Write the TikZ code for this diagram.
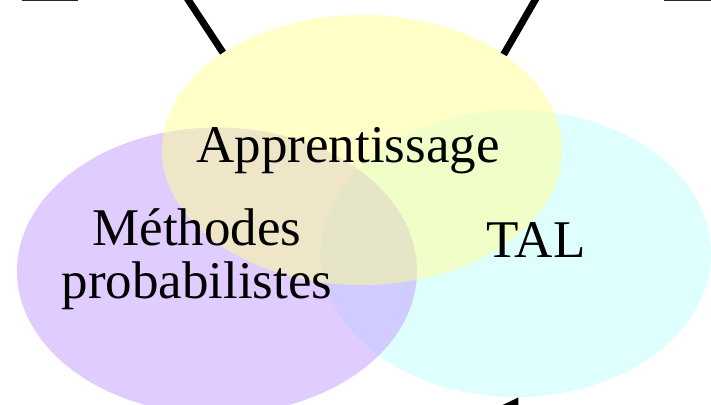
\documentclass[tikz,border=0pt]{standalone}
\usepackage{fontspec}
\setmainfont{Liberation Serif}
\usetikzlibrary{shapes.geometric,arrows.meta}
\definecolor{yelc}{HTML}{FFFF90}
\definecolor{purc}{HTML}{C299FF}
\definecolor{cyac}{HTML}{C0FFFF}
\begin{document}
\begin{tikzpicture}[x=1pt,y=-1pt,
  blob/.style={ellipse,inner sep=0pt,draw=none},
  lbl/.style={font=\fontsize{53}{53}\selectfont,align=center,inner sep=0pt,anchor=base},
  link/.style={line width=7pt,black}]
\useasboundingbox (0,0) rectangle (711,404);
\clip (0,0) rectangle (711,404);
\coordinate (t1) at (185,-5);
\coordinate (t2) at (538,-5);
\coordinate (b1) at (477,464);
\node[blob,minimum width=400pt,minimum height=270pt] (yel) at (362,150) {};
\node[blob,minimum width=400pt,minimum height=287pt] (pur) at (217,271) {};
\node[blob,minimum width=390pt,minimum height=287pt] (cya) at (516,253.5) {};
% connectors under the ellipses
\draw[link] (yel.145.7) -- (t1);
\draw[link] (yel.34.5) -- (t2);
\draw[link,-{Triangle[length=22pt,width=26pt]}] (b1) -- (cya.-89);
% translucent ellipses: cyan, purple, yellow
\fill[cyac,fill opacity=0.5] (cya.center) ellipse [x radius=195, y radius=143.5];
\fill[purc,fill opacity=0.5] (pur.center) ellipse [x radius=200, y radius=143.5];
\fill[yelc,fill opacity=0.5] (yel.center) ellipse [x radius=200, y radius=135];
% partial shapes at top edge
\draw[line width=1.5pt,black!85] (22,0) -- (78,0);
\draw[line width=1.5pt,black!85] (664,0) -- (711,0);
\node[lbl] (app) at (348,162) {Apprentissage};
\node[lbl] (meth) at (197,298) {Méthodes\\probabilistes};
\node[lbl] (tal) at (536,257) {TAL};
\end{tikzpicture}
\end{document}
